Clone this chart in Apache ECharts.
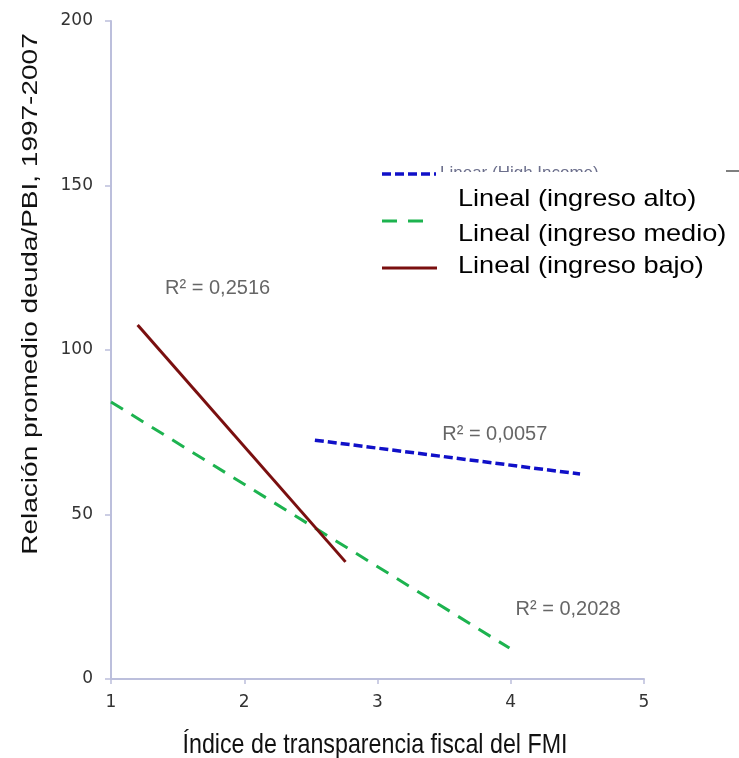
<!DOCTYPE html>
<html>
<head>
<meta charset="utf-8">
<script src="https://cdn.jsdelivr.net/npm/echarts@6/dist/echarts.min.js"></script>
<style>
  html, body { margin: 0; padding: 0; background: #fff; }
  #main { width: 739px; height: 758px; }
</style>
</head>
<body>
<div id="main"></div>
<script>
// trend lines (end points)
var xAlto = [2.53, 4.52];
var yAlto = [72.6, 62.3];
var xMedio = [1.0, 3.99];
var yMedio = [84.2, 9.4];
var xBajo = [1.2, 2.76];
var yBajo = [107.6, 35.6];

// R² labels
var r2Text = ['R² = 0,2516', 'R² = 0,0057', 'R² = 0,2028'];
var r2X = [1.80, 3.88, 4.43];
var r2Y = [118.8, 74.2, 21.0];

var legendText = ['Lineal (ingreso alto)', 'Lineal (ingreso medio)', 'Lineal (ingreso bajo)'];

function pairs(xs, ys) {
  return xs.map(function (x, i) { return [x, ys[i]]; });
}

var dom = document.getElementById('main');
var myChart = echarts.init(dom, null, { renderer: 'canvas' });

var axisColor = '#bcbfdc';
var labelFont = { color: '#333', fontSize: 17, fontFamily: 'DejaVu Sans' };

var option = {
  backgroundColor: '#fff',
  animation: false,
  grid: { left: 111, right: 95, top: 21, bottom: 79, outerBoundsMode: 'none' },
  xAxis: {
    type: 'value',
    min: 1, max: 5, interval: 1,
    axisLine: { lineStyle: { color: axisColor, width: 2 } },
    axisTick: { show: true, length: 5, lineStyle: { color: axisColor, width: 1.5 } },
    axisLabel: Object.assign({ margin: 15 }, labelFont),
    splitLine: { show: false }
  },
  yAxis: {
    type: 'value',
    min: 0, max: 200, interval: 50,
    axisLine: { show: true, lineStyle: { color: axisColor, width: 2 } },
    axisTick: { show: true, length: 6, lineStyle: { color: axisColor, width: 1.5 } },
    axisLabel: Object.assign({ margin: 18 }, labelFont),
    splitLine: { show: false }
  },
  graphic: [
    // axis titles (the source picture is stretched vertically)
    {
      type: 'text', x: 375, y: 745, scaleX: 0.83,
      style: { text: 'Índice de transparencia fiscal del FMI', fill: '#111',
        font: '28px "Liberation Sans"', align: 'center', verticalAlign: 'middle' }
    },
    {
      type: 'text', x: 31, y: 294, rotation: Math.PI / 2, scaleY: 0.8,
      style: { text: 'Relación promedio deuda/PBI, 1997-2007', fill: '#111',
        font: '28px "Liberation Sans"', align: 'center', verticalAlign: 'middle' }
    },
    // clipped original legend line
    {
      type: 'text', x: 440, y: 165, z: 10,
      style: { text: 'Linear (High Income)', fill: '#6c6f8c',
        font: '17px "Liberation Sans"', align: 'left', verticalAlign: 'top' }
    },
    {
      type: 'rect', z: 11, shape: { x: 437, y: 172, width: 302, height: 115 },
      style: { fill: '#fff' }
    },
    {
      type: 'line', z: 12, shape: { x1: 382, y1: 174, x2: 436, y2: 174 },
      style: { stroke: '#1010c8', lineWidth: 3.5, lineDash: [9, 4] }
    },
    {
      type: 'line', z: 12, shape: { x1: 726, y1: 171, x2: 739, y2: 171 },
      style: { stroke: '#555', lineWidth: 1.5 }
    },
    {
      type: 'line', z: 12, shape: { x1: 382, y1: 221, x2: 423, y2: 221 },
      style: { stroke: '#1db34f', lineWidth: 3, lineDash: [15, 11] }
    },
    {
      type: 'line', z: 12, shape: { x1: 382, y1: 268, x2: 437, y2: 268 },
      style: { stroke: '#7a0f0f', lineWidth: 3 }
    },
    {
      type: 'text', x: 458, y: 199, z: 12, scaleX: 1.13,
      style: { text: legendText[0], fill: '#000', font: '24px "Liberation Sans"', verticalAlign: 'middle' }
    },
    {
      type: 'text', x: 458, y: 234, z: 12, scaleX: 1.13,
      style: { text: legendText[1], fill: '#000', font: '24px "Liberation Sans"', verticalAlign: 'middle' }
    },
    {
      type: 'text', x: 458, y: 266, z: 12, scaleX: 1.13,
      style: { text: legendText[2], fill: '#000', font: '24px "Liberation Sans"', verticalAlign: 'middle' }
    }
  ],
  series: [
    {
      name: 'Lineal (ingreso alto)',
      type: 'line',
      data: pairs(xAlto, yAlto),
      showSymbol: false,
      lineStyle: { color: '#1010c8', width: 3.5, type: [9, 4] }
    },
    {
      name: 'Lineal (ingreso medio)',
      type: 'line',
      data: pairs(xMedio, yMedio),
      showSymbol: false,
      lineStyle: { color: '#1db34f', width: 3, type: [14, 10] }
    },
    {
      name: 'Lineal (ingreso bajo)',
      type: 'line',
      data: pairs(xBajo, yBajo),
      showSymbol: false,
      lineStyle: { color: '#7a0f0f', width: 3 }
    },
    {
      name: 'R2',
      type: 'scatter',
      symbolSize: 0,
      data: r2X.map(function (x, i) { return { value: [x, r2Y[i]], name: r2Text[i] }; }),
      label: {
        show: true,
        position: 'inside',
        formatter: '{b}',
        color: '#404040',
        fontSize: 20,
        fontFamily: 'Liberation Sans'
      }
    }
  ]
};

if (option && typeof option === 'object') {
  myChart.setOption(option);
}

window.addEventListener('resize', myChart.resize);
</script>
</body>
</html>
